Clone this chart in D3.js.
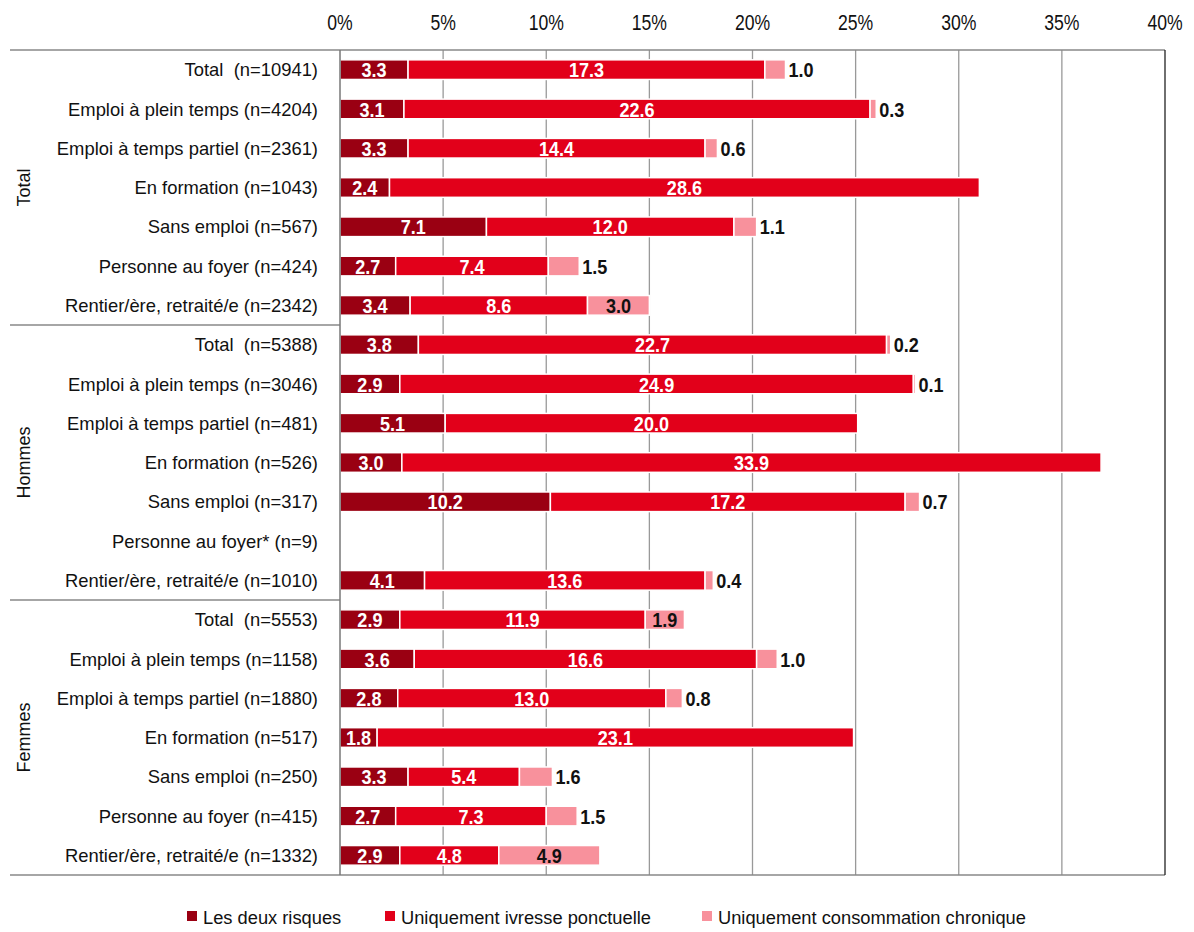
<!DOCTYPE html>
<html><head><meta charset="utf-8">
<script src="https://cdn.jsdelivr.net/npm/d3@7"></script>
<style>
body{margin:0;background:#fff;}
svg text{font-family:"Liberation Sans",Arial,sans-serif;white-space:pre;}
</style></head>
<body><svg id="c" width="1194" height="932"></svg>
<script>
const groups = ["Total","Hommes","Femmes"];
const categories = [
 "Total  (n=10941)","Emploi à plein temps (n=4204)","Emploi à temps partiel (n=2361)","En formation (n=1043)","Sans emploi (n=567)","Personne au foyer (n=424)","Rentier/ère, retraité/e (n=2342)",
 "Total  (n=5388)","Emploi à plein temps (n=3046)","Emploi à temps partiel (n=481)","En formation (n=526)","Sans emploi (n=317)","Personne au foyer* (n=9)","Rentier/ère, retraité/e (n=1010)",
 "Total  (n=5553)","Emploi à plein temps (n=1158)","Emploi à temps partiel (n=1880)","En formation (n=517)","Sans emploi (n=250)","Personne au foyer (n=415)","Rentier/ère, retraité/e (n=1332)"
];
const seriesNames = ["Les deux risques","Uniquement ivresse ponctuelle","Uniquement consommation chronique"];
const deuxRisques = [3.3,3.1,3.3,2.4,7.1,2.7,3.4, 3.8,2.9,5.1,3.0,10.2,null,4.1, 2.9,3.6,2.8,1.8,3.3,2.7,2.9];
const ivresse     = [17.3,22.6,14.4,28.6,12.0,7.4,8.6, 22.7,24.9,20.0,33.9,17.2,null,13.6, 11.9,16.6,13.0,23.1,5.4,7.3,4.8];
const chronique   = [1.0,0.3,0.6,null,1.1,1.5,3.0, 0.2,0.1,null,null,0.7,null,0.4, 1.9,1.0,0.8,null,1.6,1.5,4.9];
const tickValues = [0,5,10,15,20,25,30,35,40];
const colors = ["#9A0012","#E2001A","#F8919C"];

(function(){
const svg = d3.select("#c");
function ntext(g, x, y, str, opts){
 const sx = opts.sx||1;
 const t = g.append("text").attr("transform",`translate(${x},${y}) scale(${sx},1)`)
  .attr("dy", opts.dy||"0.36em").attr("text-anchor",opts.anchor||"start")
  .attr("font-size",opts.size||18).attr("fill",opts.fill||"#111").text(str);
 if(opts.bold) t.attr("font-weight","bold");
 return t;
}
const L = 340, R = 1165, T = 50, B = 875;
const x = d3.scaleLinear().domain([0,40]).range([L,R]);
const y = d3.scaleBand().domain(d3.range(categories.length)).range([T,B]).paddingInner(0.5).paddingOuter(0.25);

svg.append("g").selectAll("line").data(tickValues.filter(t=>t>0&&t<40)).join("line")
 .attr("x1",d=>x(d)).attr("x2",d=>x(d)).attr("y1",T).attr("y2",B)
 .attr("stroke","#999").attr("stroke-width",1.3);
const tg = svg.append("g");
tickValues.forEach(t=>ntext(tg, x(t), 22, t+"%", {anchor:"middle", size:22, sx:0.8}));

svg.append("line").attr("x1",10).attr("x2",R).attr("y1",T).attr("y2",T).attr("stroke","#888").attr("stroke-width",1.5);
svg.append("line").attr("x1",10).attr("x2",R).attr("y1",B).attr("y2",B).attr("stroke","#888").attr("stroke-width",1.5);
svg.append("line").attr("x1",R).attr("x2",R).attr("y1",T).attr("y2",B).attr("stroke","#222").attr("stroke-width",1.3);
[7,14].forEach(i=>{
 const yy = T + (B-T)*i/categories.length;
 svg.append("line").attr("x1",10).attr("x2",L).attr("y1",yy).attr("y2",yy).attr("stroke","#888").attr("stroke-width",1.5);
});

const rows = categories.map((c,i)=>({i, vals:[deuxRisques[i],ivresse[i],chronique[i]]}));
const barG = svg.append("g");
rows.forEach(r=>{
 let acc = 0;
 r.vals.forEach((v,s)=>{
  if(v==null) return;
  const x0 = x(acc), x1 = x(acc+v);
  barG.append("rect").attr("x",x0).attr("y",y(r.i)).attr("width",x1-x0).attr("height",y.bandwidth())
   .attr("fill",colors[s]).attr("stroke","#fff").attr("stroke-width",1.5);
  acc += v;
 });
 acc = 0;
 r.vals.forEach((v,s)=>{
  if(v==null) return;
  const x0 = x(acc), x1 = x(acc+v);
  const cy = y(r.i)+y.bandwidth()/2;
  if(s<2){
   ntext(barG,(x0+x1)/2,cy,v.toFixed(1),{anchor:"middle",size:21,sx:0.86,bold:true,fill:"#fff"});
  } else {
   const inside = (x1-x0) > 35;
   ntext(barG,inside?(x0+x1)/2:x1+3,cy,v.toFixed(1),{anchor:inside?"middle":"start",size:21,sx:0.86,bold:true,fill:"#111"});
  }
  acc += v;
 });
});

svg.append("line").attr("x1",L).attr("x2",L).attr("y1",T).attr("y2",B).attr("stroke","#777").attr("stroke-width",1.5);

const cg = svg.append("g");
categories.forEach((c,i)=>ntext(cg, L-22, y(i)+y.bandwidth()/2, c, {anchor:"end", size:18.4}));

groups.forEach((g,k)=>{
 const cy = T + (B-T)*(k*7+3.5)/categories.length;
 svg.append("text").attr("transform",`translate(30,${cy}) rotate(-90)`).attr("text-anchor","middle")
  .attr("font-size",18).attr("fill","#111").text(g);
});

const legX = [187,385,702];
const lgG = svg.append("g");
seriesNames.forEach((n,s)=>{
 lgG.append("rect").attr("x",legX[s]).attr("y",911).attr("width",10).attr("height",10).attr("fill",colors[s]);
 ntext(lgG, legX[s]+16, 917, n, {size:18.3});
});
})();
</script></body></html>
